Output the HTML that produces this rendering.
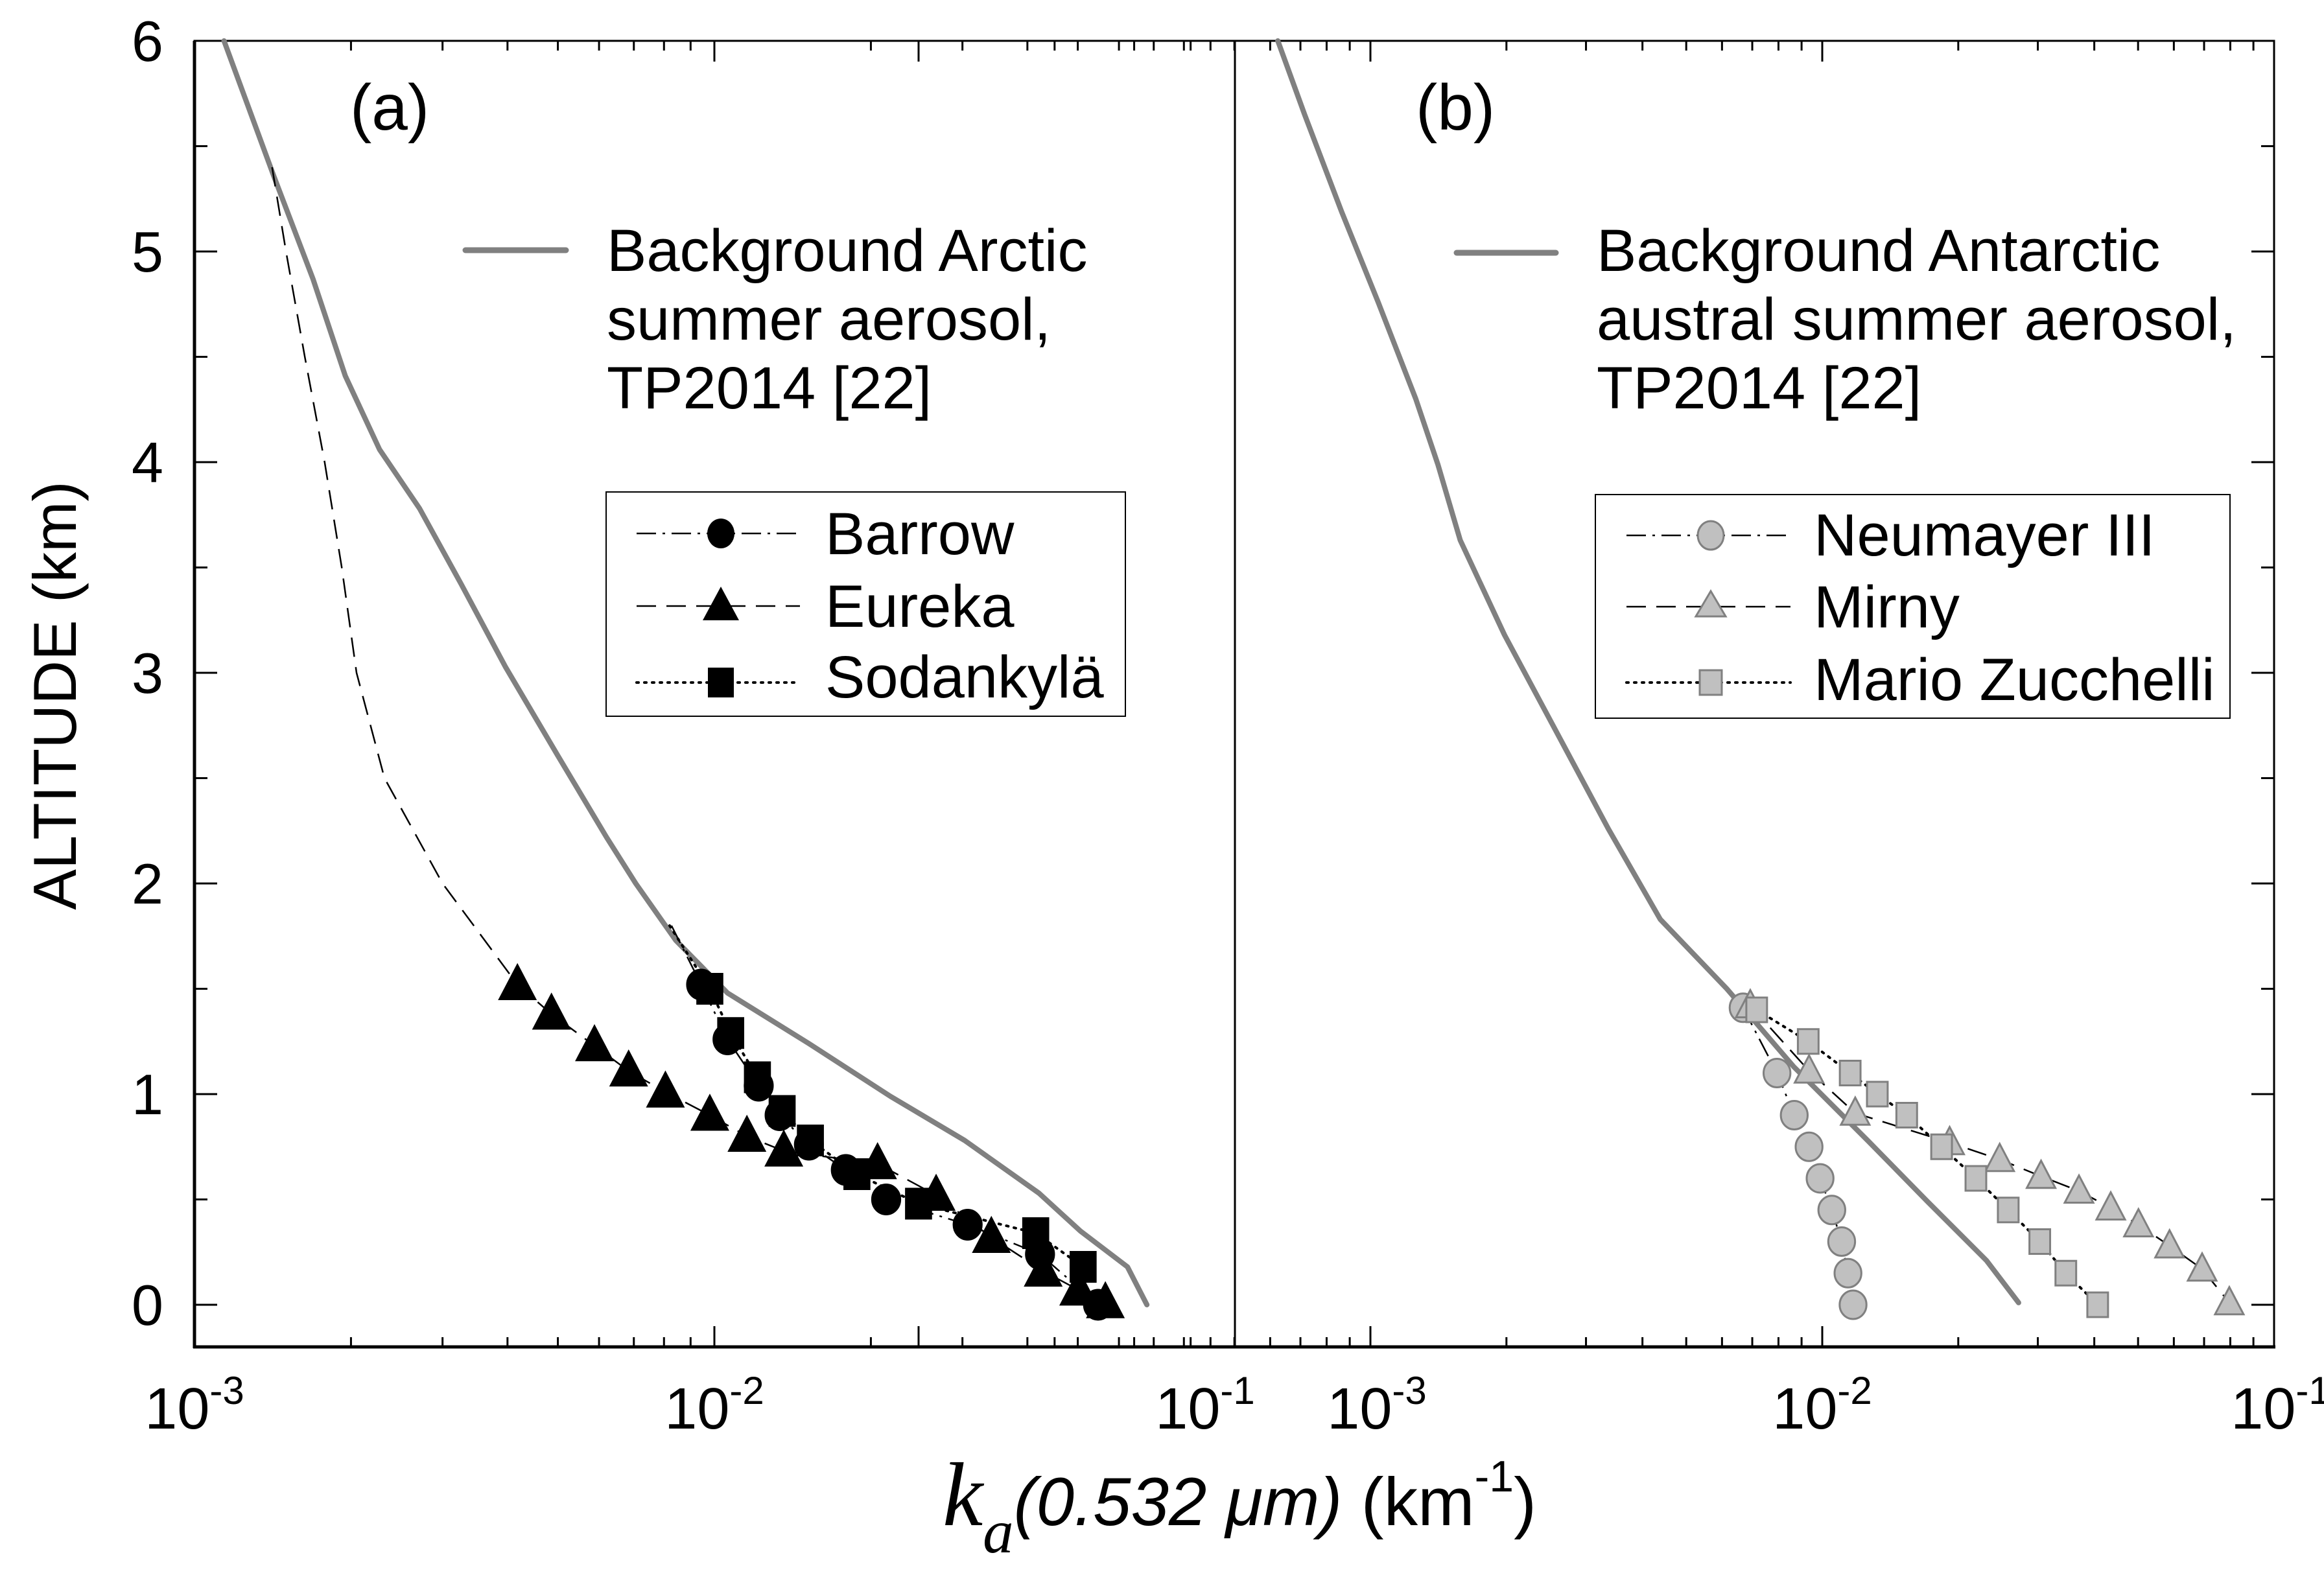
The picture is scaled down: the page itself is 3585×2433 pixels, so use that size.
<!DOCTYPE html>
<html><head><meta charset="utf-8"><style>
html,body{margin:0;padding:0;background:#fff}
svg{display:block}
text{font-family:"Liberation Sans",Arial,sans-serif;fill:#000}
</style></head><body>
<svg id="chart" width="3585" height="2433" viewBox="0 0 3585 2433" xmlns="http://www.w3.org/2000/svg">
<rect x="0" y="0" width="3585" height="2433" fill="#fff"/>
<g id="axes"></g>
<g id="series"></g>
<g id="labels"></g>
</svg>
<script>
// ---- data ----
const altTicks = [0,1,2,3,4,5,6];
const arcticBgK = [0.00114,0.00142,0.00169,0.00195,0.00227,0.00271,0.00326,0.00396,0.00499,0.0062,0.00706,0.00843,0.0106,0.0152,0.0218,0.0303,0.0421,0.0506,0.0623,0.0679];
const arcticBgAlt = [6.0,5.36,4.87,4.41,4.06,3.78,3.42,3.03,2.61,2.22,2.0,1.73,1.48,1.24,0.99,0.78,0.53,0.35,0.18,0.0];
const eurekaLineK = [0.00141,0.00150,0.00163,0.00178,0.00192,0.00205,0.00232,0.00300];
const eurekaLineAlt = [5.4,5.0,4.5,4.0,3.5,3.0,2.5,2.0];
const eurekaK = [0.00418,0.00486,0.00588,0.00684,0.00805,0.0098,0.01155,0.0136,0.0206,0.0267,0.0341,0.0429,0.0502,0.0565];
const eurekaAlt = [1.52,1.38,1.23,1.11,1.01,0.90,0.80,0.73,0.67,0.52,0.32,0.16,0.07,0.01];
const barrowK = [0.00943,0.0106,0.01217,0.01335,0.0152,0.0179,0.0214,0.0307,0.0423,0.0547];
const barrowAlt = [1.52,1.26,1.04,0.90,0.76,0.64,0.50,0.38,0.24,0.0];
const sodK = [0.0098,0.01075,0.0121,0.0135,0.0153,0.0188,0.0247,0.0415,0.0512];
const sodAlt = [1.50,1.29,1.08,0.92,0.78,0.62,0.48,0.34,0.18];
const antBgK = [0.000624,0.000715,0.000863,0.00104,0.00126,0.00141,0.00158,0.00198,0.00258,0.00336,0.00438,0.00615,0.00865,0.0126,0.0171,0.0231,0.0272];
const antBgAlt = [6.0,5.65,5.19,4.76,4.30,3.99,3.63,3.18,2.72,2.26,1.83,1.5,1.13,0.78,0.49,0.21,0.01];
const neuK = [0.00668,0.00794,0.00867,0.00935,0.00989,0.0105,0.01104,0.0114,0.0117];
const neuAlt = [1.41,1.10,0.90,0.75,0.60,0.45,0.30,0.15,0.0];
const mirK = [0.00693,0.00935,0.01183,0.01914,0.0247,0.0305,0.0370,0.0435,0.0501,0.0587,0.0693,0.0796];
const mirAlt = [1.42,1.11,0.91,0.77,0.69,0.61,0.54,0.46,0.38,0.28,0.17,0.01];
const marK = [0.00716,0.00931,0.01153,0.01324,0.01538,0.01837,0.02188,0.0258,0.0303,0.0346,0.0407];
const marAlt = [1.40,1.25,1.10,1.00,0.90,0.75,0.60,0.45,0.30,0.15,0.00];

// ---- scales ----
const NS='http://www.w3.org/2000/svg';
const TOP=63, BOT=2078;
function yA(a){return 2013-325*a;}
function xL(k){return 300+802*(Math.log10(k)+3);}
function xR(k){return 2114+697*(Math.log10(k)+3);}
function el(tag,attrs,parent){const e=document.createElementNS(NS,tag);for(const k in attrs)e.setAttribute(k,attrs[k]);parent.appendChild(e);return e;}
const axes=document.getElementById('axes'), ser=document.getElementById('series'), lab=document.getElementById('labels');

// frames
let f1=el('rect',{x:300,y:TOP,width:1605,height:BOT-TOP,fill:'none',stroke:'#000','stroke-width':3},axes);


let f2=el('rect',{x:1905,y:TOP,width:1603,height:BOT-TOP,fill:'none',stroke:'#000','stroke-width':3},axes);


let bl=el('line',{x1:298,y1:BOT,x2:3510,y2:BOT,stroke:'#000','stroke-width':5},axes);


let ll=el('line',{x1:300,y1:TOP,x2:300,y2:BOT+2,stroke:'#000','stroke-width':5},axes);



// x ticks
function xTicks(xf,lo,hi){
  for(let d=lo; d<hi; d++){
    for(let m=1;m<10;m++){
      const v=m*Math.pow(10,d); const x=xf(v);
      if(x<1890&&xf===xL&&x<299)continue;
      const len=m===1?32:15;
      let t=el('line',{x1:x,y1:BOT,x2:x,y2:BOT-len,stroke:'#000','stroke-width':3},axes);
      
      
      let t2=el('line',{x1:x,y1:TOP,x2:x,y2:TOP+len,stroke:'#000','stroke-width':3},axes);
      
      
    }
  }
}
xTicks(xL,-3,-1);
xTicks(xR,-4,-1);
// remove ticks of right panel left of its axis handled by xR range (5e-4 at axis)
// x tick labels
function xLabel(x,exp,name){
  const t=el('text',{x:x,y:2204,'font-size':90,'text-anchor':'middle'},lab);
  
  
  t.textContent='10';
  const s=el('tspan',{'font-size':60,dy:-38},t); s.textContent=exp;
}
xLabel(xL(0.001),'-3','x-tick-label-a-1e-3');
xLabel(xL(0.01),'-2','x-tick-label-a-1e-2');
xLabel(xL(0.1)-45,'-1','x-tick-label-a-1e-1');
xLabel(xR(0.001)+10,'-3','x-tick-label-b-1e-3');
xLabel(xR(0.01),'-2','x-tick-label-b-1e-2');
xLabel(xR(0.1)+10,'-1','x-tick-label-b-1e-1');

// y ticks
for(let a=0;a<=6;a+=0.5){
  const y=yA(a), major=Number.isInteger(a), len=major?35:20;
  let t=el('line',{x1:300,y1:y,x2:300+len,y2:y,stroke:'#000','stroke-width':3},axes);
  
  
  let t2=el('line',{x1:3508,y1:y,x2:3508-len,y2:y,stroke:'#000','stroke-width':3},axes);
  
  
}
altTicks.forEach(a=>{
  const t=el('text',{x:252,y:yA(a)+31,'font-size':88,'text-anchor':'end'},lab);
  
  
  t.textContent=String(a);
});

// series helpers
function path(xf,ks,as,attrs,name){
  let d=''; ks.forEach((k,i)=>{d+=(i?'L':'M')+xf(k).toFixed(1)+','+yA(as[i]).toFixed(1);});
  const p=el('path',Object.assign({d:d,fill:'none'},attrs),ser);
  
  
  return p;
}
function marker(type,x,y,s,fill,stroke,parent,name){
  let m;
  if(type==='circle') m=el('ellipse',{cx:x,cy:y,rx:s*0.47,ry:s*0.5,fill:fill,stroke:stroke,'stroke-width':3},parent);
  else if(type==='square') m=el('rect',{x:x-s*0.42,y:y-s*0.5,width:s*0.84,height:s,fill:fill,stroke:stroke,'stroke-width':3},parent);
  else m=el('polygon',{points:`${x},${y-s*0.6} ${x-s*0.55},${y+s*0.45} ${x+s*0.55},${y+s*0.45}`,fill:fill,stroke:stroke,'stroke-width':3},parent);
  
  
}
const DASHDOT='30,10,4,10', DASH='30,16', DOT='3,9';

// panel a
path(xL,arcticBgK,arcticBgAlt,{stroke:'#808080','stroke-width':8,'stroke-linejoin':'round','stroke-linecap':'round'},'arctic-background-line');
path(xL,eurekaLineK.concat(eurekaK),eurekaLineAlt.concat(eurekaAlt),{stroke:'#000','stroke-width':2.5,'stroke-dasharray':DASH},'eureka-line');
path(xL,[0.00827].concat(barrowK),[1.8].concat(barrowAlt),{stroke:'#000','stroke-width':2.5,'stroke-dasharray':DASHDOT},'barrow-line');
path(xL,[0.0082].concat(sodK),[1.8].concat(sodAlt),{stroke:'#000','stroke-width':4,'stroke-dasharray':DOT,'stroke-linecap':'round'},'sodankyla-line');
eurekaK.forEach((k,i)=>marker('tri',xL(k),yA(eurekaAlt[i]),50,'#000','#000',ser,'eureka-point'));
barrowK.forEach((k,i)=>marker('circle',xL(k),yA(barrowAlt[i]),46,'#000','#000',ser,'barrow-point'));
sodK.forEach((k,i)=>marker('square',xL(k),yA(sodAlt[i]),46,'#000','#000',ser,'sodankyla-point'));

// panel b
path(xR,antBgK,antBgAlt,{stroke:'#808080','stroke-width':8,'stroke-linejoin':'round','stroke-linecap':'round'},'antarctic-background-line');
path(xR,neuK,neuAlt,{stroke:'#000','stroke-width':2.5,'stroke-dasharray':DASHDOT},'neumayer-line');
path(xR,mirK,mirAlt,{stroke:'#000','stroke-width':2.5,'stroke-dasharray':DASH},'mirny-line');
path(xR,marK,marAlt,{stroke:'#000','stroke-width':4,'stroke-dasharray':DOT,'stroke-linecap':'round'},'mario-zucchelli-line');
const G='#c0c0c0', GS='#808080';
neuK.forEach((k,i)=>marker('circle',xR(k),yA(neuAlt[i]),44,G,GS,ser,'neumayer-point'));
mirK.forEach((k,i)=>marker('tri',xR(k),yA(mirAlt[i]),40,G,GS,ser,'mirny-point'));
marK.forEach((k,i)=>marker('square',xR(k),yA(marAlt[i]),38,G,GS,ser,'mario-zucchelli-point'));
</script>
<svg style="position:absolute;left:0;top:0" width="3585" height="2433">
<g font-family="Liberation Sans, Arial, sans-serif">
<text x="540" y="200" font-size="100">(a)</text>
<text x="2184" y="200" font-size="100">(b)</text>

<line x1="718" y1="386" x2="873" y2="386" stroke="#808080" stroke-width="9" stroke-linecap="round"/>
<text font-size="92"><tspan x="936" y="418">Background Arctic</tspan><tspan x="936" y="524">summer aerosol,</tspan><tspan x="936" y="630">TP2014 [22]</tspan></text>

<g>
<rect x="935" y="759" width="801" height="346" fill="#fff" stroke="#000" stroke-width="2"/>
<line x1="982" y1="823" x2="1234" y2="823" stroke="#000" stroke-width="2.5" stroke-dasharray="30,10,4,10"/>
<ellipse cx="1112" cy="823" rx="21" ry="23" fill="#000"/>
<text x="1273" y="855" font-size="92">Barrow</text>
<line x1="982" y1="935" x2="1234" y2="935" stroke="#000" stroke-width="2.5" stroke-dasharray="30,16"/>
<polygon points="1112,905 1084,957 1140,957" fill="#000"/>
<text x="1273" y="967" font-size="92">Eureka</text>
<line x1="982" y1="1053" x2="1234" y2="1053" stroke="#000" stroke-width="4" stroke-dasharray="3,9" stroke-linecap="round"/>
<rect x="1092" y="1030" width="40" height="46" fill="#000"/>
<text x="1273" y="1076" font-size="92">Sodankylä</text>
</g>

<line x1="2247" y1="390" x2="2400" y2="390" stroke="#808080" stroke-width="9" stroke-linecap="round"/>
<text font-size="92"><tspan x="2463" y="418">Background Antarctic</tspan><tspan x="2463" y="524">austral summer aerosol,</tspan><tspan x="2463" y="630">TP2014 [22]</tspan></text>

<g>
<rect x="2461" y="763" width="979" height="345" fill="#fff" stroke="#000" stroke-width="2"/>
<line x1="2509" y1="826" x2="2762" y2="826" stroke="#000" stroke-width="2.5" stroke-dasharray="30,10,4,10"/>
<ellipse cx="2639" cy="826" rx="20" ry="22" fill="#c0c0c0" stroke="#808080" stroke-width="3"/>
<text x="2798" y="857" font-size="92">Neumayer III</text>
<line x1="2509" y1="936" x2="2762" y2="936" stroke="#000" stroke-width="2.5" stroke-dasharray="30,16"/>
<polygon points="2639,912 2616,951 2662,951" fill="#c0c0c0" stroke="#808080" stroke-width="3"/>
<text x="2798" y="968" font-size="92">Mirny</text>
<line x1="2509" y1="1053" x2="2762" y2="1053" stroke="#000" stroke-width="4" stroke-dasharray="3,9" stroke-linecap="round"/>
<rect x="2622" y="1034" width="34" height="38" fill="#c0c0c0" stroke="#808080" stroke-width="3"/>
<text x="2798" y="1080" font-size="92">Mario Zucchelli</text>
</g>

<text x="117" y="1073" font-size="94" text-anchor="middle" transform="rotate(-90 117 1073) translate(0 0)" dy="0"><tspan dy="0">ALTITUDE (km)</tspan></text>

<text y="2353" font-size="105"><tspan x="1454" font-family="Liberation Serif, serif" font-style="italic" font-size="140">k</tspan><tspan font-family="Liberation Serif, serif" font-style="italic" font-size="95" dy="42">a</tspan><tspan font-style="italic" dy="-42">(0.532 μm)</tspan><tspan> (km</tspan><tspan font-size="68" dy="-52">-1</tspan><tspan dy="52">)</tspan></text>
</g>
</svg>
</body></html>
